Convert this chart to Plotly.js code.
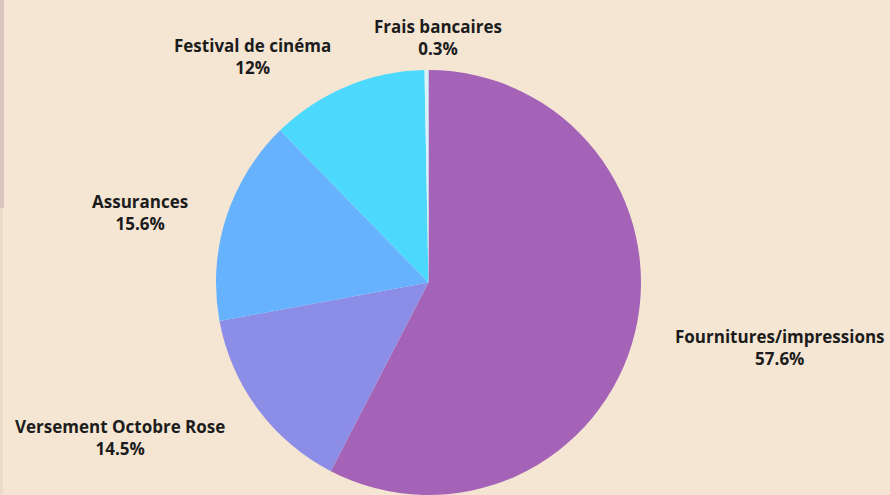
<!DOCTYPE html>
<html>
<head>
<meta charset="utf-8">
<script src="https://cdn.plot.ly/plotly-3.0.1.min.js"></script>
<style>html,body{margin:0;padding:0;background:#f5e6d3;}#chart{width:890px;height:495px;}</style>
</head>
<body>
<div id="chart"></div>
<script>
const categories = ["Fournitures/impressions", "Versement Octobre Rose", "Assurances", "Festival de cinéma", "Frais bancaires"];
const values = [57.6, 14.5, 15.6, 12, 0.3];
const colors = ["#a463b6", "#8b8de6", "#66b2fe", "#4dd9fe", "#d6f3fb"];

// label anchor positions (paper coords, layout only)
const labelX = [780/890, 120/890, 140/890, 252/890, 438/890];
const labelY = [1 - 347/495, 1 - 437/495, 1 - 212/495, 1 - 57/495, 1 - 37/495];

const total = values.reduce((a, b) => a + b, 0);
function fmtPct(v) {
  let s = (v / total * 100).toPrecision(3);
  if (s.indexOf('.') !== -1) s = s.replace(/[.]?0+$/, '');
  return s + '%';
}

const annotations = categories.map((c, i) => ({
  xref: 'paper', yref: 'paper',
  x: labelX[i], y: labelY[i],
  xanchor: 'center', yanchor: 'middle',
  text: c + '<br>' + fmtPct(values[i]),
  showarrow: false,
  align: 'center',
  font: {family: 'Open Sans, sans-serif', size: 17, weight: 'bold', color: '#1c1c1c'}
}));

const data = [{
  type: 'pie',
  labels: categories,
  values: values,
  sort: false,
  direction: 'clockwise',
  rotation: 0,
  textinfo: 'none',
  marker: {colors: colors, line: {width: 0}},
  domain: {x: [0.2418, 0.7211], y: [0, 1 - 70/495]},
  hole: 0
}];

const layout = {
  width: 890, height: 495,
  margin: {l: 0, r: 0, t: 0, b: 0},
  paper_bgcolor: '#f5e6d3',
  plot_bgcolor: '#f5e6d3',
  showlegend: false,
  annotations: annotations,
  shapes: [
    {type: 'rect', xref: 'paper', yref: 'paper', x0: 0, x1: 4/890, y0: 1 - 208/495, y1: 1, fillcolor: '#dac5c1', line: {width: 0}, layer: 'below'},
    {type: 'rect', xref: 'paper', yref: 'paper', x0: 0, x1: 3/890, y0: 0, y1: 1 - 208/495, fillcolor: '#eadbcb', line: {width: 0}, layer: 'below'}
  ]
};

Plotly.newPlot('chart', data, layout, {displayModeBar: false, staticPlot: true});
</script>
</body>
</html>
